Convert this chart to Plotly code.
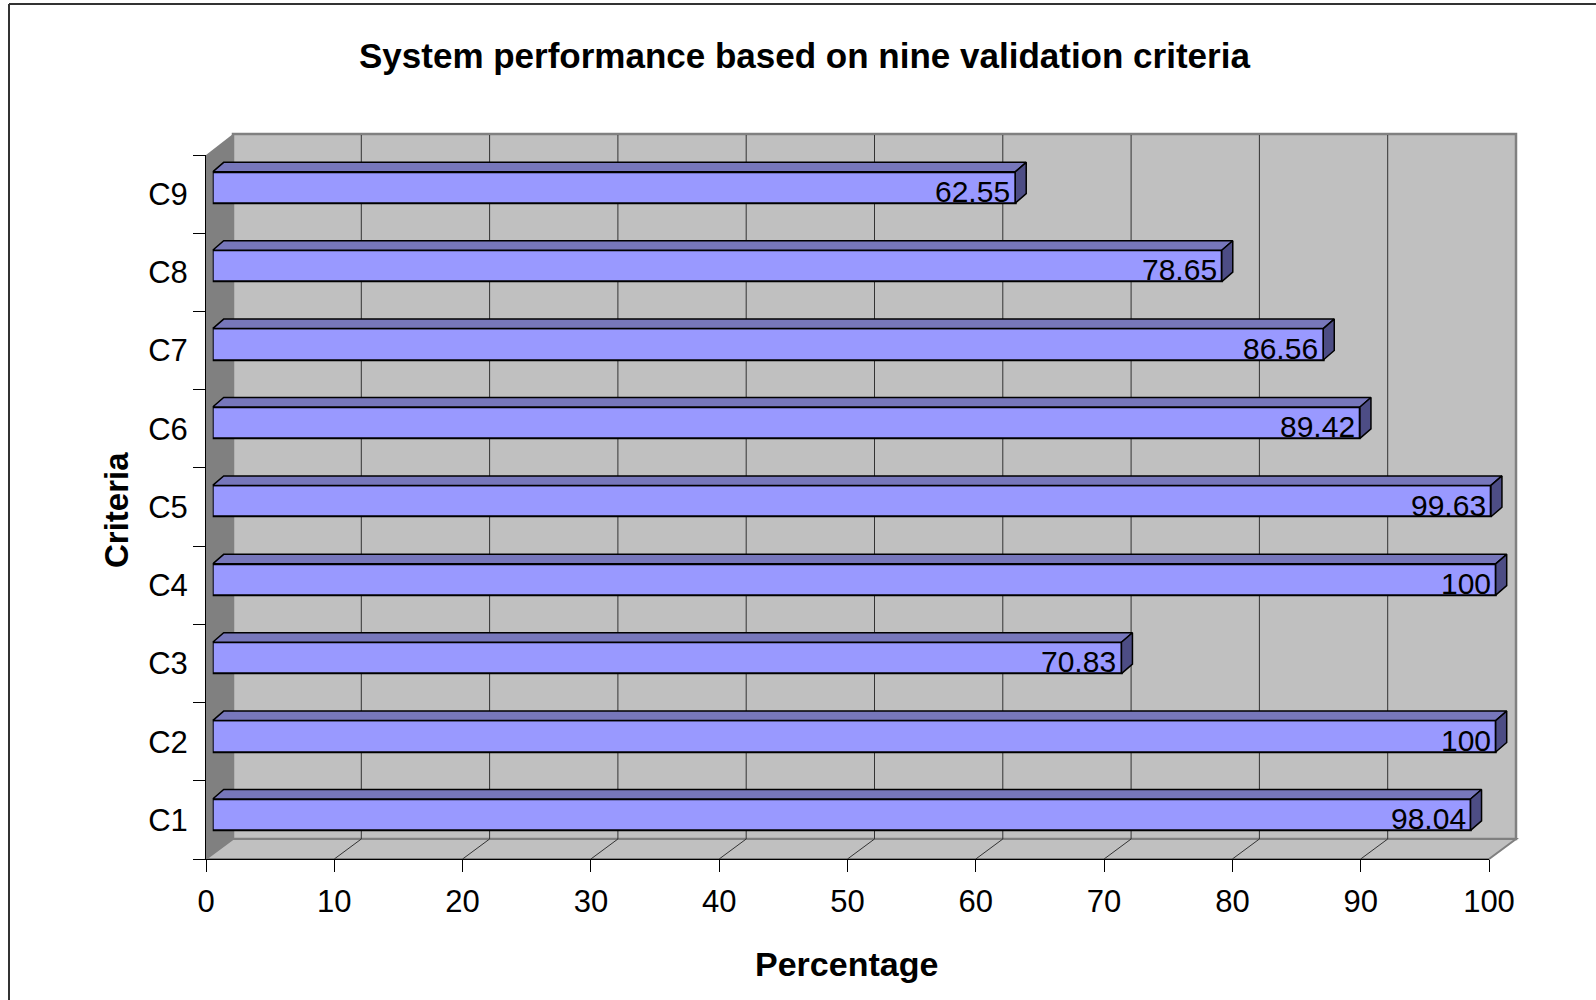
import plotly.graph_objects as go

# Chart data
criteria = ["C1", "C2", "C3", "C4", "C5", "C6", "C7", "C8", "C9"]
percentages = [98.04, 100, 70.83, 100, 99.63, 89.42, 86.56, 78.65, 62.55]
x_ticks = [0, 10, 20, 30, 40, 50, 60, 70, 80, 90, 100]

W, H = 1596, 1000
FONT = "Liberation Sans, Arial, sans-serif"


def fx(px):
    return px / W


def fy(py):
    return 1 - py / H


# geometry of the pseudo-3D frame (pixels)
FRONT_L, FRONT_R = 206, 1489        # front floor edge, value 0..100
FRONT_T, FRONT_B = 155, 859         # front category span
DEPTH_X, DEPTH_Y = 27, 20           # wall depth offset
UNIT = (FRONT_R - FRONT_L) / 100.0  # pixels per percent

BAR_L = 212.7                       # bar front face start
BAR_T, BAR_B = 148.3, 853.9         # bar category span
BAR_RANGE = 102
CAT_PX = (BAR_B - BAR_T) / 9.0
HALF = 0.2
DDX = 11 / UNIT                     # bar depth in x units
DDY = 9.5 / CAT_PX                  # bar depth in category units

ypos = list(range(len(criteria)))

fig = go.Figure()

# front faces of the bars
fig.add_trace(go.Bar(
    x=percentages, y=ypos, orientation="h", width=2 * HALF,
    xaxis="x2", yaxis="y2",
    marker=dict(color="#9999FF", line=dict(color="black", width=2)),
    hoverinfo="skip", showlegend=False,
))

# top and end faces computed from the values
top_x, top_y, side_x, side_y = [], [], [], []
for v, i in zip(percentages, ypos):
    top_x += [0, v, v + DDX, DDX, 0, None]
    top_y += [i + HALF, i + HALF, i + HALF + DDY, i + HALF + DDY, i + HALF, None]
    side_x += [v, v, v + DDX, v + DDX, v, None]
    side_y += [i - HALF, i + HALF, i + HALF + DDY, i - HALF + DDY, i - HALF, None]

fig.add_trace(go.Scatter(
    x=top_x, y=top_y, xaxis="x2", yaxis="y2", mode="lines", fill="toself",
    fillcolor="#7777BB", line=dict(color="black", width=1.5),
    hoverinfo="skip", showlegend=False,
))
fig.add_trace(go.Scatter(
    x=side_x, y=side_y, xaxis="x2", yaxis="y2", mode="lines", fill="toself",
    fillcolor="#4D4D85", line=dict(color="black", width=1.5),
    hoverinfo="skip", showlegend=False,
))

shapes = []
# left wall
shapes.append(dict(
    type="path", xref="paper", yref="paper", layer="below",
    path=f"M {fx(FRONT_L)},{fy(FRONT_T)} L {fx(FRONT_L + DEPTH_X)},{fy(FRONT_T - DEPTH_Y - 1)} "
         f"L {fx(FRONT_L + DEPTH_X)},{fy(FRONT_B - DEPTH_Y)} L {fx(FRONT_L)},{fy(FRONT_B)} Z",
    fillcolor="#808080", line=dict(width=0),
))
# back wall
shapes.append(dict(
    type="rect", xref="paper", yref="paper", layer="below",
    x0=fx(FRONT_L + DEPTH_X), x1=fx(FRONT_R + DEPTH_X),
    y0=fy(FRONT_B - DEPTH_Y), y1=fy(FRONT_T - DEPTH_Y - 1),
    fillcolor="#C0C0C0", line=dict(color="#808080", width=2.5),
))
# floor
shapes.append(dict(
    type="path", xref="paper", yref="paper", layer="below",
    path=f"M {fx(FRONT_L)},{fy(FRONT_B)} L {fx(FRONT_L + DEPTH_X)},{fy(FRONT_B - DEPTH_Y)} "
         f"L {fx(FRONT_R + DEPTH_X)},{fy(FRONT_B - DEPTH_Y)} L {fx(FRONT_R)},{fy(FRONT_B)} Z",
    fillcolor="#C0C0C0", line=dict(color="#808080", width=2),
))
# gridlines on the back wall and their floor diagonals
shift = DEPTH_X / UNIT
for t in x_ticks[1:-1]:
    shapes.append(dict(
        type="line", xref="x", yref="paper", layer="below",
        x0=t + shift, x1=t + shift, y0=fy(FRONT_B - DEPTH_Y), y1=fy(FRONT_T - DEPTH_Y),
        line=dict(color="#333333", width=1),
    ))
    shapes.append(dict(
        type="line", xref="x", yref="paper", layer="below",
        x0=t, x1=t + shift, y0=fy(FRONT_B), y1=fy(FRONT_B - DEPTH_Y),
        line=dict(color="#333333", width=1),
    ))
# outer chart border (left and top edges)
shapes.append(dict(type="line", xref="paper", yref="paper",
                   x0=fx(9), x1=fx(9), y0=fy(4), y1=0,
                   line=dict(color="#333333", width=2)))
shapes.append(dict(type="line", xref="paper", yref="paper",
                   x0=fx(9), x1=1, y0=fy(4), y1=fy(4),
                   line=dict(color="#333333", width=2)))

annotations = []
# value labels at the bar ends
for v, i in zip(percentages, ypos):
    annotations.append(dict(
        x=v, y=i, xref="x2", yref="y2", text=f"{v:g}", showarrow=False,
        xanchor="right", yanchor="middle", xshift=-3, yshift=-4,
        font=dict(family=FONT, size=30, color="black"),
    ))
annotations.append(dict(
    x=fx(804.5), y=fy(55), xref="paper", yref="paper",
    text="<b>System performance based on nine validation criteria</b>",
    showarrow=False, xanchor="center", yanchor="middle",
    font=dict(family=FONT, size=35, color="black"),
))
annotations.append(dict(
    x=fx(846), y=fy(964), xref="paper", yref="paper", text="<b>Percentage</b>",
    showarrow=False, xanchor="center", yanchor="middle",
    font=dict(family=FONT, size=34, color="black"),
))
annotations.append(dict(
    x=fx(116), y=fy(510), xref="paper", yref="paper", text="<b>Criteria</b>",
    showarrow=False, xanchor="center", yanchor="middle", textangle=-90,
    font=dict(family=FONT, size=33, color="black"),
))

fig.update_layout(
    width=W, height=H, autosize=False,
    margin=dict(l=0, r=0, t=0, b=0, pad=0, autoexpand=False),
    paper_bgcolor="white", plot_bgcolor="rgba(0,0,0,0)",
    showlegend=False, bargap=0,
    xaxis=dict(
        domain=[fx(FRONT_L), fx(FRONT_R)], range=[0, 100], anchor="y",
        automargin=False,
        tickmode="array", tickvals=x_ticks, ticks="outside", ticklen=12,
        ticklabelstandoff=3,
        tickcolor="black", tickwidth=1, showline=True, linecolor="black",
        linewidth=1, showgrid=False, zeroline=False, fixedrange=True,
        tickfont=dict(family=FONT, size=31, color="black"),
    ),
    yaxis=dict(
        domain=[fy(FRONT_B), fy(FRONT_T)], range=[-0.5, 8.5], anchor="x",
        automargin=False,
        tickmode="array", tickvals=ypos, ticktext=criteria,
        ticks="outside", ticklen=11, tickcolor="rgba(0,0,0,0)",
        minor=dict(tickmode="array", tickvals=[k - 0.5 for k in range(10)],
                   ticks="outside", ticklen=12, tickcolor="black", tickwidth=1),
        showline=True, linecolor="black", linewidth=1,
        showgrid=False, zeroline=False, fixedrange=True,
        tickfont=dict(family=FONT, size=31, color="black"),
    ),
    xaxis2=dict(
        domain=[fx(BAR_L), fx(BAR_L + BAR_RANGE * UNIT)], range=[0, BAR_RANGE],
        anchor="y2", visible=False, fixedrange=True, automargin=False,
    ),
    yaxis2=dict(
        domain=[fy(BAR_B), fy(BAR_T)], range=[-0.5, 8.5],
        anchor="x2", visible=False, fixedrange=True, automargin=False,
    ),
    shapes=shapes, annotations=annotations,
)

fig.write_html("out.html")
